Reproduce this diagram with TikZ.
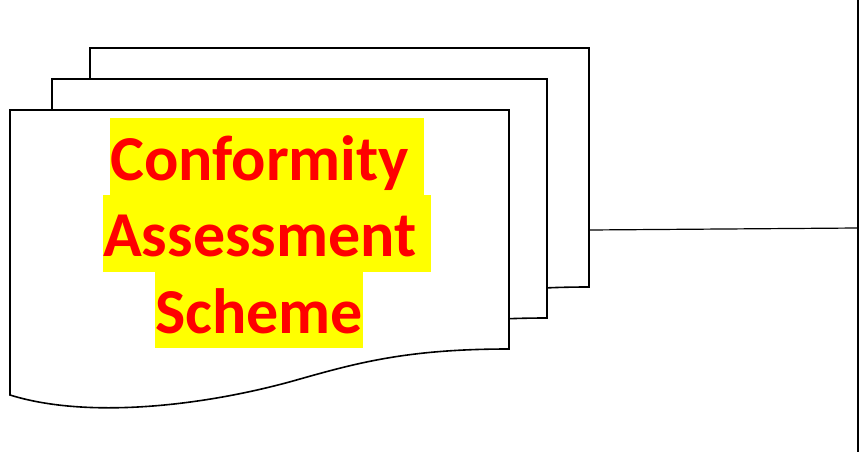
\documentclass[tikz,border=0pt]{standalone}
\usepackage{fontspec}
\setmainfont{Carlito}
\definecolor{hlyellow}{RGB}{255,255,0}
\definecolor{hlred}{RGB}{255,0,0}
\tikzset{
  docshape/.style={draw=black, fill=white, line width=1.6pt, line join=miter},
  hlline/.style={fill=hlyellow, text=hlred, inner sep=0pt, anchor=base west,
    text height=62pt, text depth=15pt,
    font=\fontsize{64}{77}\selectfont\bfseries},
  wire/.style={draw=black, line width=1.2pt},
  bus/.style={draw=black, line width=1.8pt}
}
% one sheet of the stack: a page with a wavy lower edge
\newcommand{\sheetpath}{%
  (0,0) -- (499,0) -- (499,239)
  .. controls (400,239) and (350,252) .. (290,269)
  .. controls (200,295) and (80,310) .. (0,285) -- cycle}
% trailing blank that stays highlighted
\newcommand{\hlgap}{\hspace*{0.226em}}
\begin{document}
\begin{tikzpicture}[x=1pt, y=-1pt]
  \useasboundingbox (0,0) rectangle (859,452);
  % stacked sheets, back to front
  \begin{scope}[shift={(90,48)}]
    \path[docshape] \sheetpath;
  \end{scope}
  \begin{scope}[shift={(52,79)}, xscale=0.992]
    \path[docshape] \sheetpath;
  \end{scope}
  \begin{scope}[shift={(10,110)}]
    \path[docshape] \sheetpath;
  \end{scope}
  % highlighted title, one line at a time
  \node[hlline] (t1) at (110,180) {Conformity\hlgap};
  \node[hlline] (t2) at (103,256.5) {Assessment\hlgap};
  \node[hlline] (t3) at (155,333) {Scheme};
  % link from the stack to the vertical bus
  \coordinate (stackR) at (589,230);
  \coordinate (busTop) at (858,0);
  \coordinate (busBot) at (858,452);
  \coordinate (busJoin) at (858,228);
  \draw[bus] (busTop) -- (busBot);
  \draw[wire] (stackR) -- (busJoin);
\end{tikzpicture}
\end{document}
